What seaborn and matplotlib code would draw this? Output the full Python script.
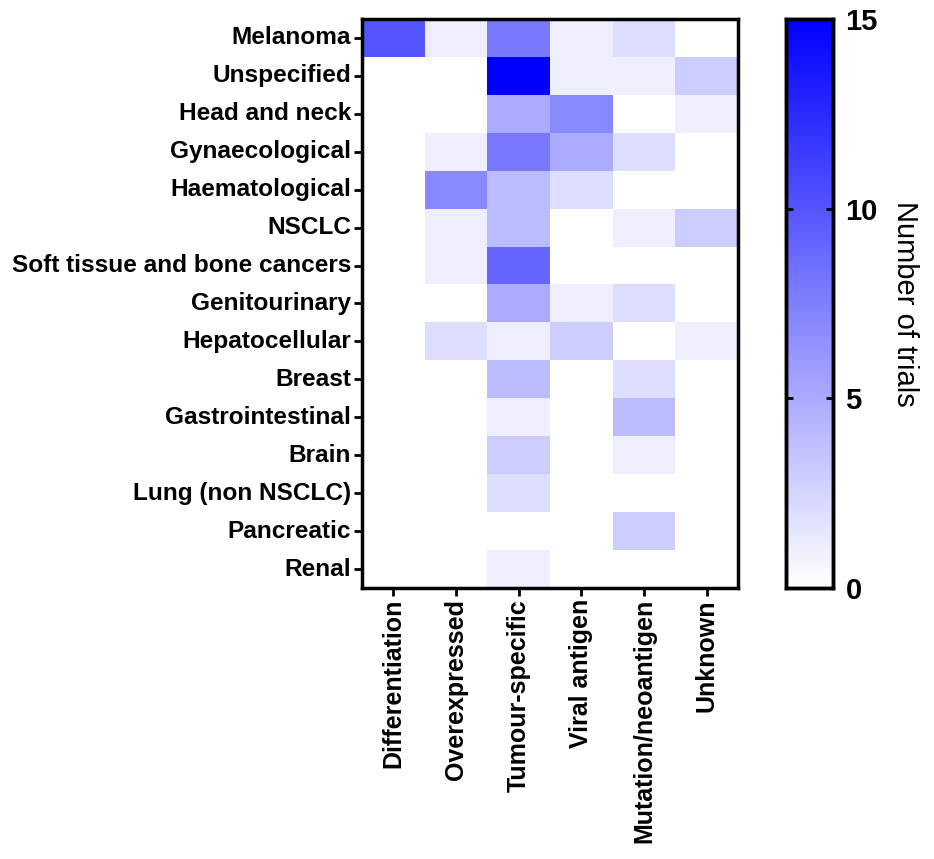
import matplotlib
matplotlib.use("Agg")
import matplotlib.pyplot as plt
import seaborn as sns
import pandas as pd
from matplotlib.colors import LinearSegmentedColormap

cancers = ["Melanoma", "Unspecified", "Head and neck", "Gynaecological", "Haematological",
           "NSCLC", "Soft tissue and bone cancers", "Genitourinary", "Hepatocellular",
           "Breast", "Gastrointestinal", "Brain", "Lung (non NSCLC)", "Pancreatic", "Renal"]
antigens = ["Differentiation", "Overexpressed", "Tumour-specific", "Viral antigen",
            "Mutation/neoantigen", "Unknown"]

differentiation = [10, 0, 0, 0, 0, 0, 0, 0, 0, 0, 0, 0, 0, 0, 0]
overexpressed   = [1, 0, 0, 1, 7, 1, 1, 0, 2, 0, 0, 0, 0, 0, 0]
tumour_specific = [8, 15, 5, 8, 4, 4, 9, 5, 1, 4, 1, 3, 2, 0, 1]
viral_antigen   = [1, 1, 7, 5, 2, 0, 0, 1, 3, 0, 0, 0, 0, 0, 0]
mutation        = [2, 1, 0, 2, 0, 1, 0, 2, 0, 2, 4, 1, 0, 3, 0]
unknown         = [0, 3, 1, 0, 0, 3, 0, 0, 1, 0, 0, 0, 0, 0, 0]

df = pd.DataFrame({
    antigens[0]: differentiation,
    antigens[1]: overexpressed,
    antigens[2]: tumour_specific,
    antigens[3]: viral_antigen,
    antigens[4]: mutation,
    antigens[5]: unknown,
}, index=cancers)

plt.rcParams['font.family'] = ['Liberation Sans', 'DejaVu Sans']

cmap = LinearSegmentedColormap.from_list("wb", ["#ffffff", "#0000ff"])

fig = plt.figure(figsize=(9.34, 8.59), dpi=100)
ax = fig.add_axes([0.3876, 0.3155, 0.4026, 0.6625])
cax = fig.add_axes([0.8415, 0.3155, 0.0503, 0.6625])

sns.heatmap(df, ax=ax, cmap=cmap, vmin=0, vmax=15, cbar_ax=cax,
            cbar_kws={'ticks': [0, 5, 10, 15]})

for s in ax.spines.values():
    s.set_visible(True)
    s.set_linewidth(2.5)
    s.set_color('black')
ax.tick_params(axis='both', length=6, width=2, color='black', pad=2)
ax.set_yticklabels(cancers, rotation=0, fontsize=17.6, fontweight='bold')
ax.set_xticklabels(antigens, rotation=90, fontsize=18, fontweight='bold')
ax.set_xlabel('')
ax.set_ylabel('')

for s in cax.spines.values():
    s.set_visible(True)
    s.set_linewidth(2.5)
    s.set_color('black')
cax.tick_params(length=5, width=2, direction='in', labelsize=21, pad=9,
                left=True, right=True)
for t in cax.get_yticklabels():
    t.set_fontweight('bold')
cax.set_ylabel('Number of trials', rotation=270, fontsize=21, labelpad=30)

fig.savefig("out.png", dpi=100)
